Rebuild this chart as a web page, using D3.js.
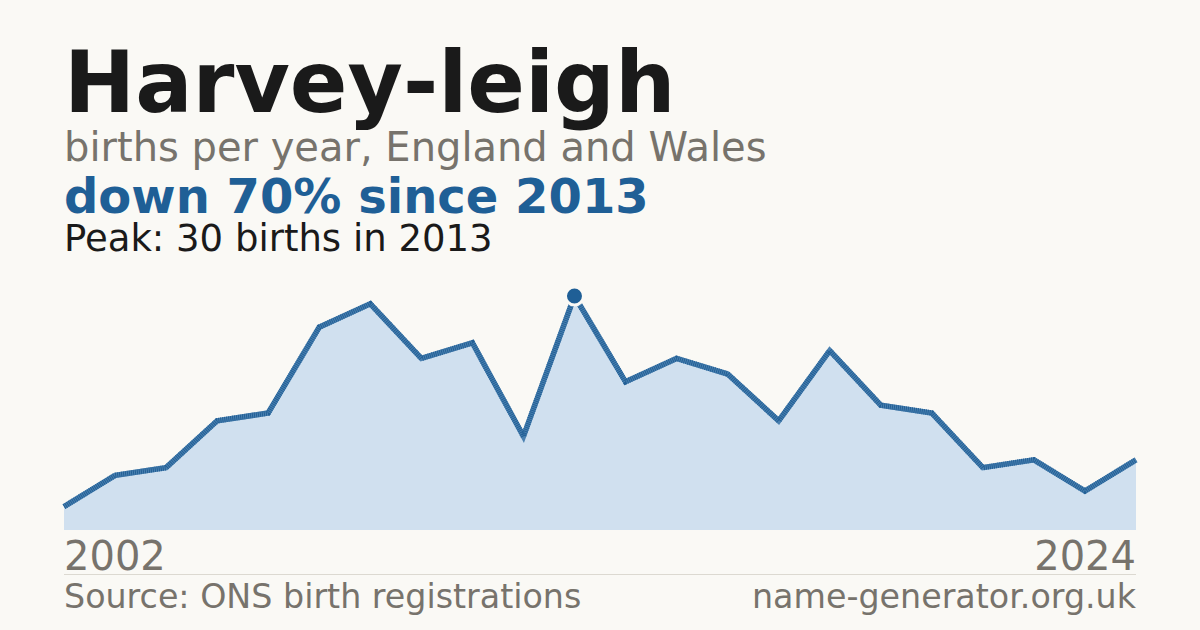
<!DOCTYPE html>
<html><head><meta charset="utf-8">
<script src="https://cdn.jsdelivr.net/npm/d3@7"></script>
<style>html,body{margin:0;padding:0;background:#faf9f5;}svg{display:block;}</style>
</head><body>
<script>
const years = [2002,2003,2004,2005,2006,2007,2008,2009,2010,2011,2013,2014,2015,2016,2017,2018,2019,2020,2021,2022,2023,2024];
const births = [3,7,8,14,15,26,29,22,24,12,30,19,22,20,14,23,16,15,8,9,5,9];
const titleText = "Harvey-leigh";
const subtitleText = "births per year, England and Wales";
const headlineText = "down 70% since 2013";
const peakText = "Peak: 30 births in 2013";
const sourceText = "Source: ONS birth registrations";
const siteText = "name-generator.org.uk";

const W=1200,H=630;
const svg=d3.select("body").append("svg").attr("width",W).attr("height",H);
svg.append("rect").attr("width",W).attr("height",H).attr("fill","#faf9f5");
const font="DejaVu Sans, sans-serif";

svg.append("text").attr("x",64).attr("y",112).attr("font-family",font).attr("font-weight","bold").attr("font-size",85).attr("fill","#1a1a1a").text(titleText);
svg.append("text").attr("x",64).attr("y",161).attr("font-family",font).attr("font-size",40).attr("fill","#77736c").text(subtitleText);
svg.append("text").attr("x",64).attr("y",213).attr("font-family",font).attr("font-weight","bold").attr("font-size",48).attr("fill","#1f5f96").text(headlineText);
svg.append("text").attr("x",64).attr("y",251).attr("font-family",font).attr("font-size",37).attr("fill","#1a1a1a").text(peakText);

const x=d3.scalePoint().domain(years).range([64,1136]);
const y=d3.scaleLinear().domain([0,d3.max(births)]).range([530,296]);
const data=years.map((yr,i)=>({yr,v:births[i]}));

svg.append("path").datum(data).attr("fill","#d0e0ef")
  .attr("d",d3.area().x(d=>x(d.yr)).y0(y(0)).y1(d=>y(d.v)));
const line=d3.line().x(d=>x(d.yr)).y(d=>y(d.v));
svg.append("path").datum(data).attr("fill","none").attr("stroke","#4a80b0").attr("stroke-width",5.5)
  .attr("stroke-linejoin","miter").attr("d",line);
svg.append("path").datum(data).attr("fill","none").attr("stroke","#225f95").attr("stroke-width",5.5)
  .attr("stroke-linejoin","miter").attr("stroke-dasharray","1 1").attr("d",line);

const iMax=d3.maxIndex(births);
svg.append("circle").attr("cx",x(years[iMax])).attr("cy",y(births[iMax])).attr("r",9)
  .attr("fill","#1f5f96").attr("stroke","#faf9f5").attr("stroke-width",3);

svg.append("text").attr("x",64).attr("y",570).attr("font-family",font).attr("font-size",40).attr("fill","#77736c").text(years[0]);
svg.append("text").attr("x",1136).attr("y",570).attr("text-anchor","end").attr("font-family",font).attr("font-size",40).attr("fill","#77736c").text(years[years.length-1]);
svg.append("line").attr("x1",64).attr("x2",1136).attr("y1",574.5).attr("y2",574.5).attr("stroke","#dcd9d1").attr("stroke-width",1);
svg.append("text").attr("x",64).attr("y",608).attr("font-family",font).attr("font-size",33.3).attr("fill","#77736c").text(sourceText);
svg.append("text").attr("x",1136).attr("y",608).attr("text-anchor","end").attr("font-family",font).attr("font-size",33.3).attr("fill","#77736c").text(siteText);
</script>
</body></html>
